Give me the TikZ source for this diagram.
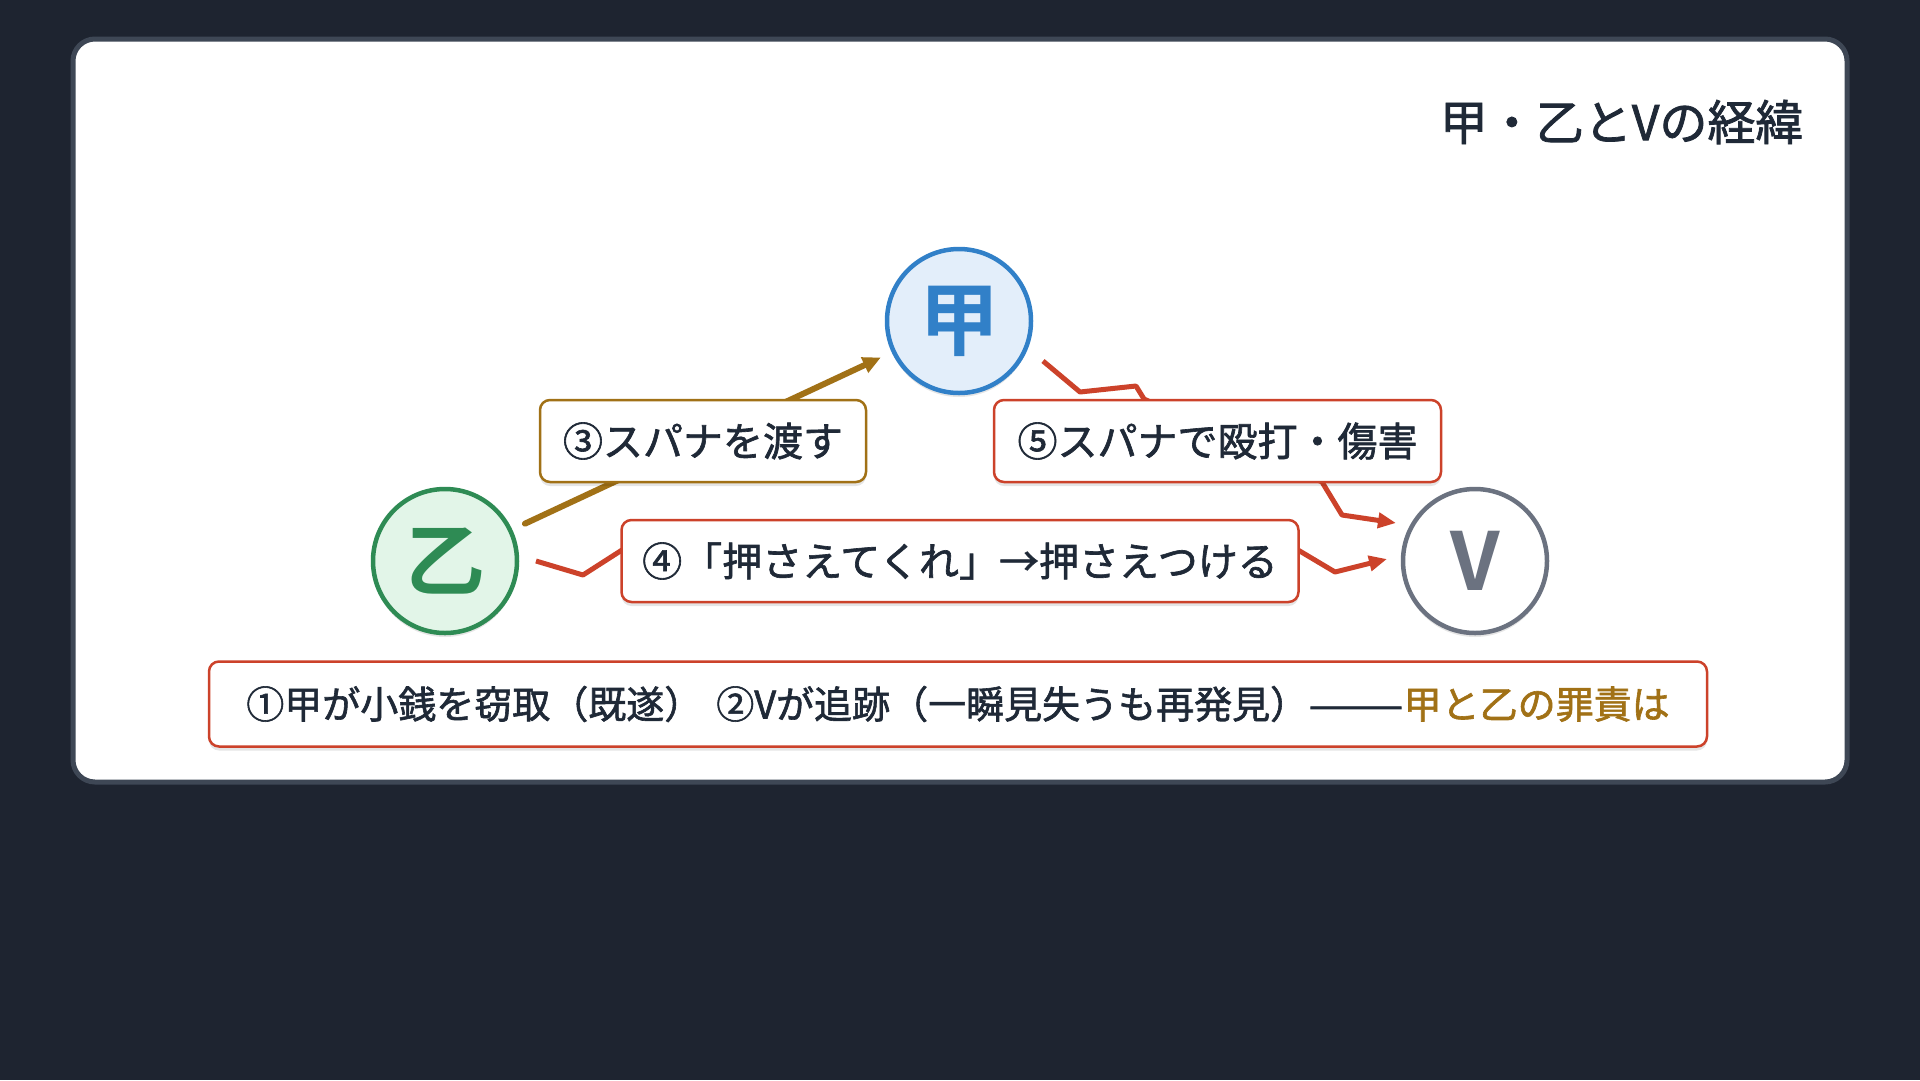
\documentclass[tikz,border=0pt]{standalone}
\usepackage{fontspec}
\setmainfont{Noto Sans CJK JP}
\newfontfamily\mediumFont{Noto Sans CJK JP}[FakeBold=1.6]
\newfontfamily\heavyFont{Noto Sans CJK JP Bold}
\usetikzlibrary{arrows.meta,shadows}
\definecolor{pageColor}{RGB}{30,36,48}
\definecolor{cardLine}{RGB}{62,71,85}
\definecolor{inkColor}{RGB}{31,41,55}
\definecolor{kouColor}{RGB}{49,128,200}
\definecolor{kouFill}{RGB}{227,238,250}
\definecolor{otsuColor}{RGB}{46,139,84}
\definecolor{otsuFill}{RGB}{226,245,232}
\definecolor{victimColor}{RGB}{107,114,128}
\definecolor{handColor}{RGB}{161,113,22}
\definecolor{harmColor}{RGB}{204,66,42}
\tikzstyle{softShadow} = [drop shadow={shadow xshift=0pt, shadow yshift=-4pt, opacity=0.10, fill=black}]
\tikzstyle{personStyle} = [circle, minimum size=144pt, inner sep=0pt, line width=4.5pt, font=\heavyFont\fontsize{80}{82}\selectfont, softShadow]
\tikzstyle{labelBox} = [draw, fill=white, rounded corners=10pt, line width=2.5pt, minimum height=82pt, text=inkColor, font=\mediumFont\fontsize{40}{48}\selectfont, softShadow]
\tikzstyle{handArrow} = [handColor, line width=6pt, line cap=round, -{Triangle[length=18pt,width=16pt]}]
\tikzstyle{harmArrow} = [harmColor, line width=5pt, line join=round, -{Triangle[length=18pt,width=15pt]}]
\newcommand{\personCircle}[5]{\node [personStyle, draw=#4, fill=#5, text=#4] (#1) at (#2) {#3};}

\begin{document}
\begin{tikzpicture}[x=1pt, y=-1pt]
  \useasboundingbox (0,0) rectangle (1920,1080);
  \fill [pageColor] (0,0) rectangle (1920,1080);
  \filldraw [fill=white, draw=cardLine, line width=5pt, rounded corners=22pt] (73,39) rectangle (1847,782);
  \node [anchor=east, text=inkColor, font=\mediumFont\fontsize{48}{56}\selectfont] (titleText) at (1807,122) {甲・乙とVの経緯};

  \personCircle{kouCircle}{959,321}{甲}{kouColor}{kouFill}
  \personCircle{otsuCircle}{445,561}{乙}{otsuColor}{otsuFill}
  \personCircle{victimCircle}{1475,561}{V}{victimColor}{white}

  \draw [handArrow, shorten <=14pt, shorten >=12pt] (otsuCircle) -- (kouCircle);
  \draw [harmArrow] ([shift={(84,40)}]kouCircle.center) -- (1080,392) -- (1136,386) -- (1144,399)
    -- (1322,482) -- (1342,515) -- ([shift={(-79,-38)}]victimCircle.center);
  \draw [harmArrow] ([shift={(91,0)}]otsuCircle.center) -- (583,575) -- (622,550) -- (1298,550)
    -- (1335,572) -- ([shift={(-88,-2)}]victimCircle.center);

  \node [labelBox, draw=handColor, minimum width=326pt] (handLabel) at (703,441) {③スパナを渡す};
  \node [labelBox, draw=harmColor, minimum width=447pt] (hitLabel) at (1217.5,441) {⑤スパナで殴打・傷害};
  \node [labelBox, draw=harmColor, minimum width=677pt] (pressLabel) at (960,561) {④「押さえてくれ」→押さえつける};
  \node [labelBox, draw=harmColor, minimum width=1498pt, minimum height=85pt, font=\mediumFont\fontsize{38}{44}\selectfont] (factsBox) at (958,704)
    {①甲が小銭を窃取（既遂）\hspace{14pt}②Vが追跡（一瞬見失うも再発見）\scalebox{1.5}[1]{——}\textcolor{handColor}{甲と乙の罪責は}};
\end{tikzpicture}
\end{document}
